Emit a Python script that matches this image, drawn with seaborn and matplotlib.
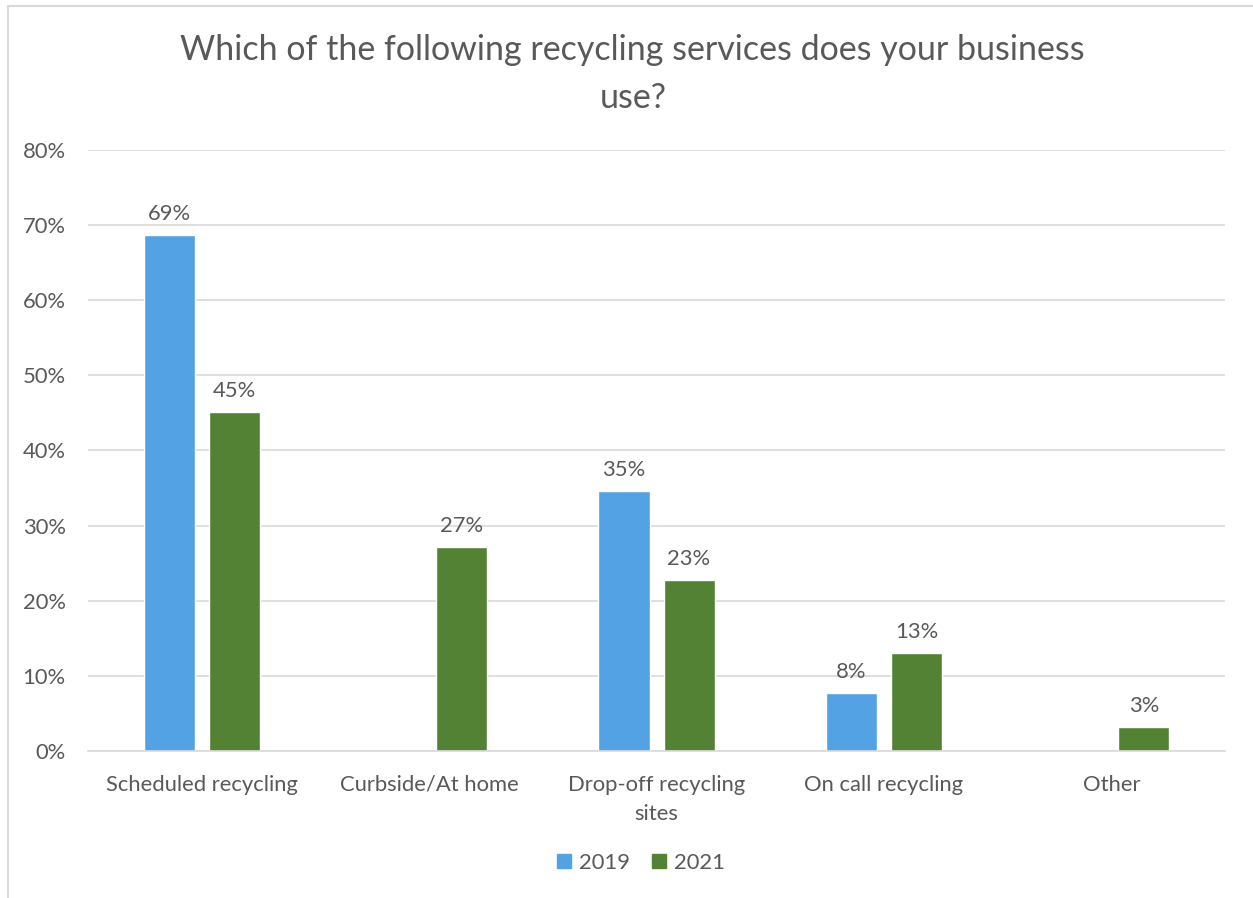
import pandas as pd
import matplotlib.pyplot as plt
import seaborn as sns
import matplotlib.ticker as plticker
from matplotlib.lines import Line2D

# values (percent)
categories = ["Scheduled recycling", "Curbside/At home", "Drop-off recycling\nsites",
              "On call recycling", "Other"]
years = ["2019", "2021"]
vals_2019 = [68.7, None, 34.6, 7.7, None]
vals_2021 = [45.1, 27.2, 22.8, 13.0, 3.2]

rows = []
for cat, v19, v21 in zip(categories, vals_2019, vals_2021):
    if v19 is not None:
        rows.append({"service": cat, "year": "2019", "pct": v19})
    if v21 is not None:
        rows.append({"service": cat, "year": "2021", "pct": v21})
df = pd.DataFrame(rows)

sns.set_style("white")
plt.rcParams['font.family'] = ['Lato', 'DejaVu Sans']
txt = "#595959"
fs = 15.8

fig = plt.figure(figsize=(12.53, 8.98), dpi=100)
ax = fig.add_axes([0.0702, 0.1637, 0.9075, 0.6693])

sns.barplot(data=df, x="service", y="pct", hue="year", order=categories,
            hue_order=years, palette=["#53A3E4", "#548235"], width=0.572,
            gap=0.215, ax=ax, legend=False, saturation=1)

for cont in ax.containers:
    ax.bar_label(cont, labels=[f"{b.get_height():.0f}%" for b in cont],
                 padding=8, fontsize=fs, color=txt)

ax.set_ylim(0, 80)
ax.set_xlim(-0.5, 4.5)
ax.yaxis.set_major_locator(plticker.MultipleLocator(10))
ax.yaxis.set_major_formatter(plticker.FuncFormatter(lambda v, p: f"{v:.0f}%"))
ax.grid(axis="y", color="#D9D9D9", linewidth=1.2)
ax.set_axisbelow(True)
for s in ["left", "right", "top"]:
    ax.spines[s].set_visible(False)
ax.spines["bottom"].set_color("#D9D9D9")
ax.spines["bottom"].set_linewidth(1.2)
ax.tick_params(axis="y", length=0, pad=16, labelsize=fs, labelcolor=txt)
ax.tick_params(axis="x", length=0, pad=17, labelsize=fs, labelcolor=txt)
for t in ax.get_xticklabels():
    t.set_linespacing(1.6)
ax.set_xlabel("")
ax.set_ylabel("")

fig.suptitle("Which of the following recycling services does your business\nuse?",
             x=0.505, y=0.962, fontsize=24.5, color=txt, linespacing=1.6)

handles = [Line2D([], [], marker="s", linestyle="", markersize=9.5,
                  color=c) for c in ["#53A3E4", "#548235"]]
fig.legend(handles, years, loc="center", bbox_to_anchor=(0.511, 0.039), ncol=2,
           frameon=False, fontsize=fs, labelcolor=txt, handlelength=0.8,
           handletextpad=0.3, columnspacing=0.9)

# chart area border (left and top edges visible)
fig.add_artist(Line2D([0.0064, 0.0064], [0.0, 0.9933], color="#D9D9D9",
                      linewidth=1.5, transform=fig.transFigure))
fig.add_artist(Line2D([0.0064, 1.0], [0.9933, 0.9933], color="#D9D9D9",
                      linewidth=1.5, transform=fig.transFigure))

fig.savefig("out.png", dpi=100, facecolor="white")
